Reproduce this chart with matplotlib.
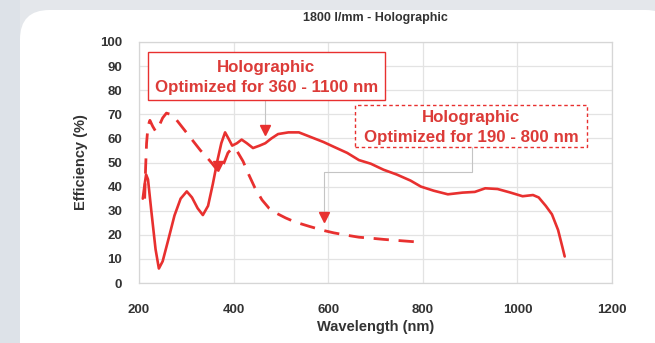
import matplotlib.pyplot as plt
from matplotlib.patches import FancyBboxPatch, Rectangle

# grating efficiency, 360-1100 nm blaze (solid)
wl_a = [208, 212, 215, 219, 226, 235, 242, 250, 262, 275, 288, 301, 312, 324, 335,
        346, 356, 366, 374, 382, 389, 397, 407, 417, 428, 441, 455, 467, 480, 494,
        516, 538, 564, 590, 612, 640, 665, 690, 717, 745, 774, 796, 823, 853, 884,
        910, 932, 958, 984, 1011, 1033, 1045, 1060, 1073, 1086, 1095, 1100]
eff_a = [35, 41, 45, 43, 30, 14, 6, 9, 18, 28, 35, 38, 35.5, 31, 28.2,
         32, 41, 51, 58, 62.5, 60, 57, 58, 59.5, 58, 56, 57, 58, 60, 61.8,
         62.5, 62.5, 60.5, 58.5, 56.5, 54, 51, 49.5, 47, 45, 42.5, 40, 38.3, 36.8, 37.5,
         37.8, 39.3, 39, 37.6, 36, 36.5, 35.5, 32, 28.5, 22, 15, 11]

# grating efficiency, 190-800 nm blaze (dashed)
wl_b = [212, 214, 216, 219, 223, 229, 235, 242, 250, 258, 266, 276, 290, 304, 318,
        330, 342, 355, 365, 372, 380, 388, 397, 408, 420, 432, 445, 460, 475, 490,
        510, 530, 560, 590, 612, 640, 665, 690, 717, 750, 790]
eff_b = [35, 48, 58, 65, 67.5, 65, 63, 65, 68.5, 70.5, 70, 68.5, 65, 61.5, 58,
         55, 52.5, 49.5, 47, 46.5, 50, 54, 56, 54.5, 50.5, 45, 39.5, 34.5, 31, 29,
         27, 25.3, 23.5, 21.8, 20.8, 19.8, 19, 18.6, 18.1, 17.6, 17]

x_ticks = [200, 400, 600, 800, 1000, 1200]
y_ticks = [0, 10, 20, 30, 40, 50, 60, 70, 80, 90, 100]

title = "1800 l/mm - Holographic"
label_a = ["Holographic", "Optimized for 360 - 1100 nm"]
label_b = ["Holographic", "Optimized for 190 - 800 nm"]

RED = "#e8302f"
TXT_RED = "#dc3b38"
GRID = "#e3e3e3"
DARK = "#333333"
FONT = ["Liberation Sans", "DejaVu Sans"]

plt.rcParams["font.family"] = FONT
plt.rcParams["font.weight"] = "bold"

fig = plt.figure(figsize=(6.55, 3.43), dpi=100, facecolor="#e4e7eb")
W, H = 655, 343

# soft bluish strip on the left and the white card
fig.patches.append(Rectangle((0, 0), 20 / W, 1, transform=fig.transFigure,
                             facecolor="#dde2e8", edgecolor="none", zorder=0))
card = FancyBboxPatch((20 / W, -0.2), 1.0, 1.2 - 10 / H,
                      boxstyle="round,pad=0,rounding_size=0.045",
                      transform=fig.transFigure, facecolor="white",
                      edgecolor="none", zorder=1, mutation_aspect=W / H)
fig.patches.append(card)

ax = fig.add_axes([139 / W, 1 - 283 / H, (612 - 139) / W, (283 - 42) / H])
ax.set_facecolor("white")
ax.set_zorder(2)

ax.plot(wl_a, eff_a, color=RED, lw=1.9, solid_capstyle="round", zorder=4)
ax.plot(wl_b, eff_b, color=RED, lw=2.0, dashes=(5.5, 3.5), zorder=4)

ax.set_xlim(200, 1200)
ax.set_ylim(0, 100)
ax.set_xticks(x_ticks)
ax.set_yticks(y_ticks)
ax.tick_params(length=0, labelsize=9.5, colors=DARK)
ax.tick_params(axis="x", pad=15)
ax.tick_params(axis="y", pad=12)
ax.grid(True, color=GRID, lw=0.9)
for s in ax.spines.values():
    s.set_color("#d6d6d6")
    s.set_linewidth(0.9)

ax.set_title(title, fontsize=9, color=DARK, fontweight="bold", pad=15)
ax.set_xlabel("Wavelength (nm)", fontsize=10.5, color=DARK, fontweight="bold",
              labelpad=3)
ax.set_ylabel("Efficiency (%)", fontsize=10.5, color=DARK, fontweight="bold",
              labelpad=9)

# box for the 360-1100 nm curve
ax.add_patch(Rectangle((219, 75.9), 720 - 219, 95.9 - 75.9, facecolor="white",
                       edgecolor=RED, lw=1.0, zorder=5))
ax.text(469.5, 89.6, label_a[0], ha="center", va="center", fontsize=12.2,
        color=TXT_RED, zorder=6)
ax.text(469.5, 81.3, label_a[1], ha="center", va="center", fontsize=12.2,
        color=TXT_RED, zorder=6)
ax.plot([466, 466], [75.9, 63.5], color="#c4c4c4", lw=0.8, zorder=3)
ax.plot([466], [63.5], marker="v", ms=7, color=RED, zorder=5)
ax.plot([367], [48.5], marker="v", ms=7, color=RED, zorder=5)

# box for the 190-800 nm curve
ax.add_patch(Rectangle((657, 56.4), 1147 - 657, 73.9 - 56.4, facecolor="white",
                       edgecolor=RED, lw=1.0, ls=(0, (2.5, 2)), zorder=5))
ax.text(902, 68.5, label_b[0], ha="center", va="center", fontsize=12.2,
        color=TXT_RED, zorder=6)
ax.text(902, 60.2, label_b[1], ha="center", va="center", fontsize=12.2,
        color=TXT_RED, zorder=6)
ax.plot([904, 904, 591, 591], [56.4, 46, 46, 27.4], color="#c4c4c4", lw=0.8, zorder=3)
ax.plot([591], [27.4], marker="v", ms=7, color=RED, zorder=5)

fig.savefig("out.png", dpi=100, facecolor=fig.get_facecolor())
